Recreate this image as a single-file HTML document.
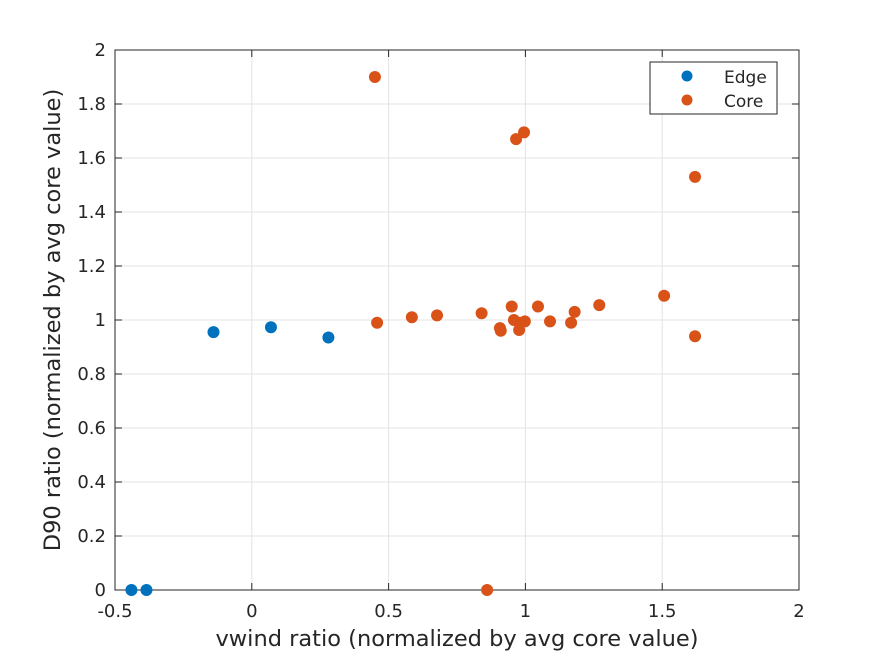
<!DOCTYPE html>
<html><head><meta charset="utf-8"><style>
body{margin:0;background:#fff;}
svg text{font-family:"DejaVu Sans","Liberation Sans",sans-serif;fill:#262626;}
</style></head><body>
<svg id="chart" width="884" height="663">
<rect x="0" y="0" width="884" height="663" fill="#fff"/>
<g id="grid"></g>
<rect x="115" y="50" width="684" height="540" fill="none" stroke="#262626" stroke-width="1"/>
<g id="ticks"></g>
<g id="marks"></g>
<text x="457" y="646" font-size="22.5" text-anchor="middle">vwind ratio (normalized by avg core value)</text>
<text transform="translate(60,320) rotate(-90)" font-size="22.5" text-anchor="middle">D90 ratio (normalized by avg core value)</text>
<g>
<rect x="650" y="62" width="127" height="52" fill="#fff" stroke="#262626"/>
<circle cx="687" cy="76" r="5.5" fill="#0072BD"/>
<text x="724" y="83" font-size="17">Edge</text>
<circle cx="687" cy="100" r="5.5" fill="#D95319"/>
<text x="724" y="107" font-size="17">Core</text>
</g>
</svg>
<script>
const xTicks=[-0.5,0,0.5,1,1.5,2];
const xTickLabels=["-0.5","0","0.5","1","1.5","2"];
const yTicks=[0,0.2,0.4,0.6,0.8,1,1.2,1.4,1.6,1.8,2];
const yTickLabels=["0","0.2","0.4","0.6","0.8","1","1.2","1.4","1.6","1.8","2"];
const edgeX=[-0.44,-0.385,-0.14,0.07,0.28];
const edgeY=[0,0,0.955,0.973,0.935];
const coreX=[0.45,0.458,0.585,0.677,0.84,0.86,0.907,0.91,0.95,0.958,0.966,0.977,0.98,0.995,0.998,1.046,1.09,1.167,1.18,1.27,1.507,1.62,1.62];
const coreY=[1.90,0.99,1.01,1.017,1.025,0,0.97,0.96,1.05,1.00,1.67,0.963,0.99,1.695,0.995,1.05,0.995,0.99,1.03,1.055,1.09,1.53,0.94];
const NS="http://www.w3.org/2000/svg";
const xs=v=>115+(v+0.5)/2.5*684;
const ys=v=>590-v/2*540;
const grid=document.getElementById('grid'),ticks=document.getElementById('ticks'),marks=document.getElementById('marks');
function mk(t,a,p){const e=document.createElementNS(NS,t);for(const k in a)e.setAttribute(k,a[k]);p.appendChild(e);return e;}
xTicks.forEach((v,i)=>{
 const g=mk('line',{x1:xs(v),x2:xs(v),y1:50,y2:590,stroke:'#e3e3e3'},grid);
 
 
 mk('line',{x1:xs(v),x2:xs(v),y1:590,y2:583,stroke:'#262626'},ticks);
 mk('line',{x1:xs(v),x2:xs(v),y1:50,y2:57,stroke:'#262626'},ticks);
 const t=mk('text',{x:xs(v),y:617,'font-size':18,'text-anchor':'middle'},ticks);
 t.textContent=xTickLabels[i];
 
 
});
yTicks.forEach((v,i)=>{
 const g=mk('line',{x1:115,x2:799,y1:ys(v),y2:ys(v),stroke:'#e3e3e3'},grid);
 
 
 mk('line',{x1:115,x2:122,y1:ys(v),y2:ys(v),stroke:'#262626'},ticks);
 mk('line',{x1:799,x2:792,y1:ys(v),y2:ys(v),stroke:'#262626'},ticks);
 const t=mk('text',{x:106,y:ys(v)+6,'font-size':18,'text-anchor':'end'},ticks);
 t.textContent=yTickLabels[i];
 
 
});
edgeX.forEach((v,i)=>{
 const c=mk('circle',{cx:xs(v),cy:ys(edgeY[i]),r:6,fill:'#0072BD'},marks);
 
 
});
coreX.forEach((v,i)=>{
 const c=mk('circle',{cx:xs(v),cy:ys(coreY[i]),r:6,fill:'#D95319'},marks);
 
 
});
</script>
</body></html>
